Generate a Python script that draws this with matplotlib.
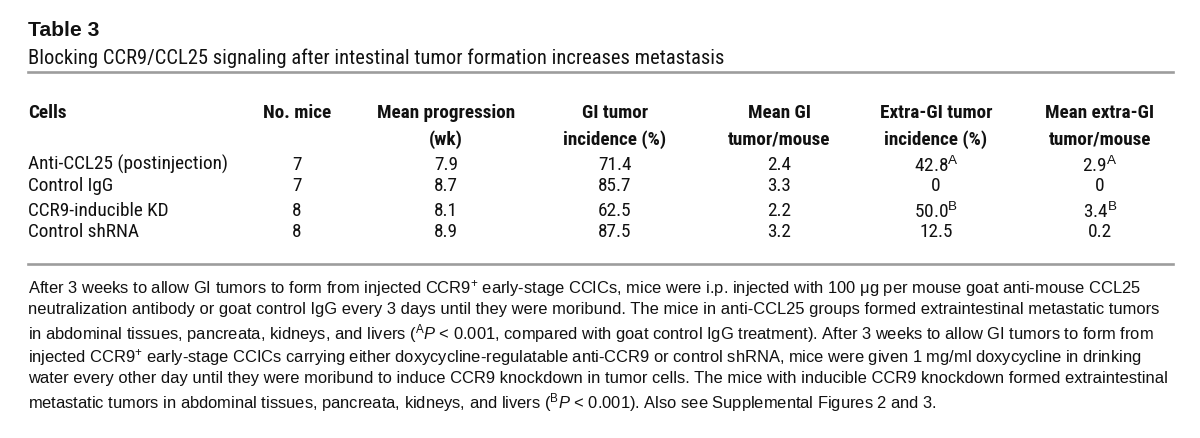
import matplotlib
matplotlib.use("Agg")
import matplotlib.pyplot as plt
from matplotlib import font_manager
from matplotlib.font_manager import FontProperties
from matplotlib.lines import Line2D

# table content
title = "Table 3"
subtitle = "Blocking CCR9/CCL25 signaling after intestinal tumor formation increases metastasis"
headers = ["Cells", "No. mice", "Mean progression\n(wk)", "GI tumor\nincidence (%)",
           "Mean GI\ntumor/mouse", "Extra-GI tumor\nincidence (%)", "Mean extra-GI\ntumor/mouse"]
cells = ["Anti-CCL25 (postinjection)", "Control IgG", "CCR9-inducible KD", "Control shRNA"]
n_mice = ["7", "7", "8", "8"]
mean_progression = ["7.9", "8.7", "8.1", "8.9"]
gi_incidence = ["71.4", "85.7", "62.5", "87.5"]
mean_gi = ["2.4", "3.3", "2.2", "3.2"]
extra_gi_incidence = ["42.8", "0", "50.0", "12.5"]
mean_extra_gi = ["2.9", "0", "3.4", "0.2"]
marks = ["A", "", "B", ""]

footnote = [
    "After 3 weeks to allow GI tumors to form from injected CCR9$^{+}$ early-stage CCICs, mice were i.p. injected with 100 \u03bcg per mouse goat anti-mouse CCL25",
    "neutralization antibody or goat control IgG every 3 days until they were moribund. The mice in anti-CCL25 groups formed extraintestinal metastatic tumors",
    "in abdominal tissues, pancreata, kidneys, and livers ($^{\\mathrm{A}}\\mathit{P}$ < 0.001, compared with goat control IgG treatment). After 3 weeks to allow GI tumors to form from",
    "injected CCR9$^{+}$ early-stage CCICs carrying either doxycycline-regulatable anti-CCR9 or control shRNA, mice were given 1 mg/ml doxycycline in drinking",
    "water every other day until they were moribund to induce CCR9 knockdown in tumor cells. The mice with inducible CCR9 knockdown formed extraintestinal",
    "metastatic tumors in abdominal tissues, pancreata, kidneys, and livers ($^{\\mathrm{B}}\\mathit{P}$ < 0.001). Also see Supplemental Figures 2 and 3.",
]

REG = "Liberation Sans"


def weight_num(w):
    if isinstance(w, (int, float)):
        return w
    return {"bold": 700, "normal": 400, "regular": 400, "medium": 500}.get(str(w).lower(), 400)


def condensed_font(weight):
    # the journal table uses a condensed face; take the first narrow family found
    flist = font_manager.fontManager.ttflist
    for fam in ["Liberation Sans Narrow", "Roboto Condensed", "Open Sans Condensed",
                "Noto Sans Condensed", "Noto Sans SemiCondensed"]:
        hits = [f for f in flist if f.name == fam and f.style == "normal"]
        if hits:
            best = min(hits, key=lambda f: abs(weight_num(f.weight) - weight))
            return FontProperties(fname=best.fname)
    hits = [f for f in flist if f.name in ("DejaVu Sans", "Noto Sans")
            and "condensed" in str(f.stretch) and f.style == "normal"]
    if hits:
        best = min(hits, key=lambda f: abs(weight_num(f.weight) - weight))
        return FontProperties(fname=best.fname)
    return FontProperties(family=REG, weight="bold" if weight >= 600 else "normal")


plt.rcParams["mathtext.fontset"] = "custom"
plt.rcParams["mathtext.rm"] = REG
plt.rcParams["mathtext.it"] = REG + ":italic"
plt.rcParams["mathtext.bf"] = REG + ":bold"

W, H = 1200, 439
fig = plt.figure(figsize=(W / 100, H / 100), dpi=100)
fig.patch.set_facecolor("white")
renderer = fig.canvas.get_renderer()


def px(x, y):
    return x / W, 1 - y / H


def put(x, y, s, **kw):
    # mathtext lines sit a little high on the baseline, nudge them down
    if "$" in s:
        y += 2
    fx, fy = px(x, y)
    return fig.text(fx, fy, s, **kw)


def fit_size(s, fp, width):
    probe = fig.text(0, 0, s, fontproperties=fp.copy())
    probe.set_fontsize(20)
    w = probe.get_window_extent(renderer=renderer).width
    probe.remove()
    return 20 * width / w


def sized(fp, size):
    f = fp.copy()
    f.set_size(size)
    return f


LEFT, RIGHT = 28, 1173


def hline(y):
    (a, b), (c, _) = px(LEFT, y), px(RIGHT, y)
    fig.add_artist(Line2D([a, c], [b, b], color="#9d9d9d", lw=1.9))


ink = "#111111"
reg_c = condensed_font(400)
bold_c = condensed_font(700)

sub_size = fit_size(subtitle, reg_c, 694)
data_size = fit_size(cells[0], reg_c, 200)
head_size = fit_size("Mean progression", bold_c, 138)
foot_size = fit_size(footnote[4], FontProperties(family=REG), 1134)
title_size = fit_size(title, FontProperties(family=REG, weight="bold"), 71)

put(LEFT, 36, title, family=REG, weight="bold", fontsize=title_size, color=ink, va="baseline")
put(LEFT, 64, subtitle, fontproperties=sized(reg_c, sub_size), color=ink, va="baseline")
hline(73)

col_x = [LEFT, 297, 446, 615, 779, 936, 1100]
for i, h in enumerate(headers):
    ha = "left" if i == 0 else "center"
    for j, line in enumerate(h.split("\n")):
        put(col_x[i], 118 + 27 * j, line, fontproperties=sized(bold_c, head_size),
            color=ink, ha=ha, va="baseline")

row_y = [170, 191, 216, 237]
columns = [cells, n_mice, mean_progression, gi_incidence, mean_gi, extra_gi_incidence, mean_extra_gi]
for r, y in enumerate(row_y):
    for c, col in enumerate(columns):
        s = col[r]
        if c >= 5 and marks[r]:
            s = s + "$^{\\mathrm{" + marks[r] + "}}$"
        ha = "left" if c == 0 else "center"
        put(col_x[c], y, s, fontproperties=sized(reg_c, data_size), color=ink, ha=ha, va="baseline")

hline(265)

for k, line in enumerate(footnote):
    put(LEFT, 291 + 23 * k, line, family=REG, fontsize=foot_size, color=ink,
        ha="left", va="baseline")

fig.savefig("out.png", dpi=100, facecolor="white")
